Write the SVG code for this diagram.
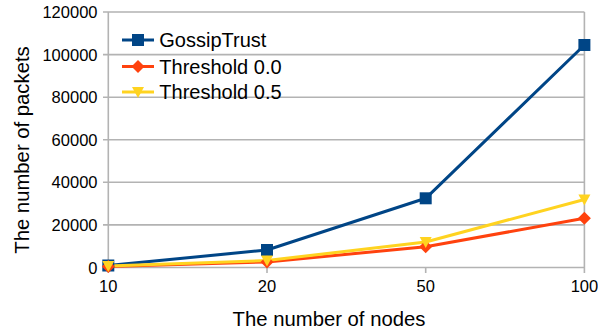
<svg xmlns="http://www.w3.org/2000/svg" width="598" height="334" viewBox="0 0 598 334">
<style>
.grid{stroke:#b3b3b3;stroke-width:1.6;fill:none}
.tick{font-family:"Liberation Sans",Arial,sans-serif;font-size:16.5px;fill:#000}
.title{font-family:"Liberation Sans",Arial,sans-serif;font-size:20.3px;fill:#000}
.leg{font-family:"Liberation Sans",Arial,sans-serif;font-size:20px;fill:#000}
.s1{stroke:#004586;stroke-width:3;fill:none;stroke-linejoin:round}
.s2{stroke:#ff420e;stroke-width:3;fill:none;stroke-linejoin:round}
.s3{stroke:#ffd320;stroke-width:3;fill:none;stroke-linejoin:round}
</style>
<defs>
<rect id="sq" x="-6" y="-6" width="12" height="12" fill="#004586"/>
<polygon id="dm" points="0,-6.5 6.5,0 0,6.5 -6.5,0" fill="#ff420e"/>
<polygon id="tr" points="-6,-5 6,-5 0,6" fill="#ffd320"/>
</defs>
<rect width="598" height="334" fill="#fff"/>
<g id="axes">
<path class="grid" d="M103 12H584.4M103 54.6H584.4M103 97.2H584.4M103 139.8H584.4M103 182.3H584.4M103 224.9H584.4M103 267.5H584.4"/>
<path class="grid" d="M108.3 12V273M584.4 12V273M267 267.5V273M425.7 267.5V273"/>
</g>
<g id="yticks" class="tick" text-anchor="end">
<text x="97.5" y="18">120000</text>
<text x="97.5" y="60.6">100000</text>
<text x="97.5" y="103.2">80000</text>
<text x="97.5" y="145.8">60000</text>
<text x="97.5" y="188.3">40000</text>
<text x="97.5" y="230.9">20000</text>
<text x="97.5" y="273.5">0</text>
</g>
<g id="xticks" class="tick" text-anchor="middle">
<text x="108.3" y="291.5">10</text>
<text x="267" y="291.5">20</text>
<text x="425.7" y="291.5">50</text>
<text x="584.4" y="291.5">100</text>
</g>
<text id="xtitle" class="title" x="329" y="325.5" text-anchor="middle">The number of nodes</text>
<text id="ytitle" class="title" transform="translate(28.5 150) rotate(-90)" text-anchor="middle">The number of packets</text>
<g id="series">
<polyline class="s1" points="108.3,265.5 267,250 425.7,198.3 584.4,45"/>
<polyline class="s2" points="108.3,266.5 267,262 425.7,246.7 584.4,218.3"/>
<polyline class="s3" points="108.3,266 267,260.5 425.7,242 584.4,199.5"/>
<use href="#sq" x="108.3" y="265.5"/><use href="#sq" x="267" y="250"/><use href="#sq" x="425.7" y="198.3"/><use href="#sq" x="584.4" y="45"/>
<use href="#dm" x="108.3" y="266.5"/><use href="#dm" x="267" y="262"/><use href="#dm" x="425.7" y="246.7"/><use href="#dm" x="584.4" y="218.3"/>
<use href="#tr" x="108.3" y="266"/><use href="#tr" x="267" y="260.5"/><use href="#tr" x="425.7" y="242"/><use href="#tr" x="584.4" y="199.5"/>
</g>
<g id="legend">
<line class="s1" x1="122" y1="40" x2="154" y2="40"/><use href="#sq" x="138" y="40"/>
<text class="leg" x="159.3" y="47">GossipTrust</text>
<line class="s2" x1="122" y1="66.5" x2="154" y2="66.5"/><use href="#dm" x="138" y="66.5"/>
<text class="leg" x="159.3" y="73.5">Threshold 0.0</text>
<line class="s3" x1="122" y1="92" x2="154" y2="92"/><use href="#tr" x="138" y="92"/>
<text class="leg" x="159.3" y="99">Threshold 0.5</text>
</g>
</svg>
